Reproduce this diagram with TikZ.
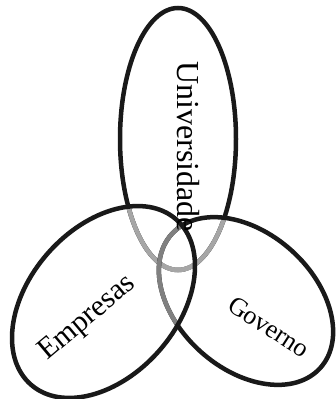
\documentclass[tikz,border=0pt]{standalone}
\usepackage{fontspec}
\setmainfont{Liberation Serif}
\begin{document}
\begin{tikzpicture}[x=1pt,y=1pt,
  ring/.style={line width=4.5pt,draw=black!90},
  hidU/.style={line width=4.5pt,draw=black!35},
  hidG/.style={line width=4.5pt,draw=black!50},
  lbl/.style={inner sep=0pt,anchor=base west}]
\useasboundingbox (0,0) rectangle (335,399);
% Universidade (bottom layer)
\draw[ring] (178,260) ellipse [x radius=58, y radius=131];
\begin{scope}
  \clip[rotate around={48.6:(103.5,97)}] (103.5,97) ellipse [x radius=110, y radius=74];
  \draw[hidU] (178,260) ellipse [x radius=58, y radius=131];
\end{scope}
\begin{scope}
  \clip[rotate around={-42:(246,98)}] (246,98) ellipse [x radius=100, y radius=68];
  \draw[hidU] (178,260) ellipse [x radius=58, y radius=131];
\end{scope}
% Governo (middle layer)
\draw[ring,rotate around={-42:(246,98)}] (246,98) ellipse [x radius=100, y radius=68];
\begin{scope}
  \clip[rotate around={48.6:(103.5,97)}] (103.5,97) ellipse [x radius=110, y radius=74];
  \draw[hidG,rotate around={-42:(246,98)}] (246,98) ellipse [x radius=100, y radius=68];
\end{scope}
% Empresas (top layer)
\draw[ring,rotate around={48.6:(103.5,97)}] (103.5,97) ellipse [x radius=110, y radius=74];
% labels
\node[lbl,rotate=-90] (univ) at (177,338) {\fontsize{32}{32}\selectfont Universidade};
\node[lbl,rotate=40] (emp) at (47,38) {\fontsize{30}{30}\selectfont Empresas};
\node[lbl,rotate=-33] (gov) at (226,90) {\fontsize{26}{26}\selectfont Governo};
\end{tikzpicture}
\end{document}
